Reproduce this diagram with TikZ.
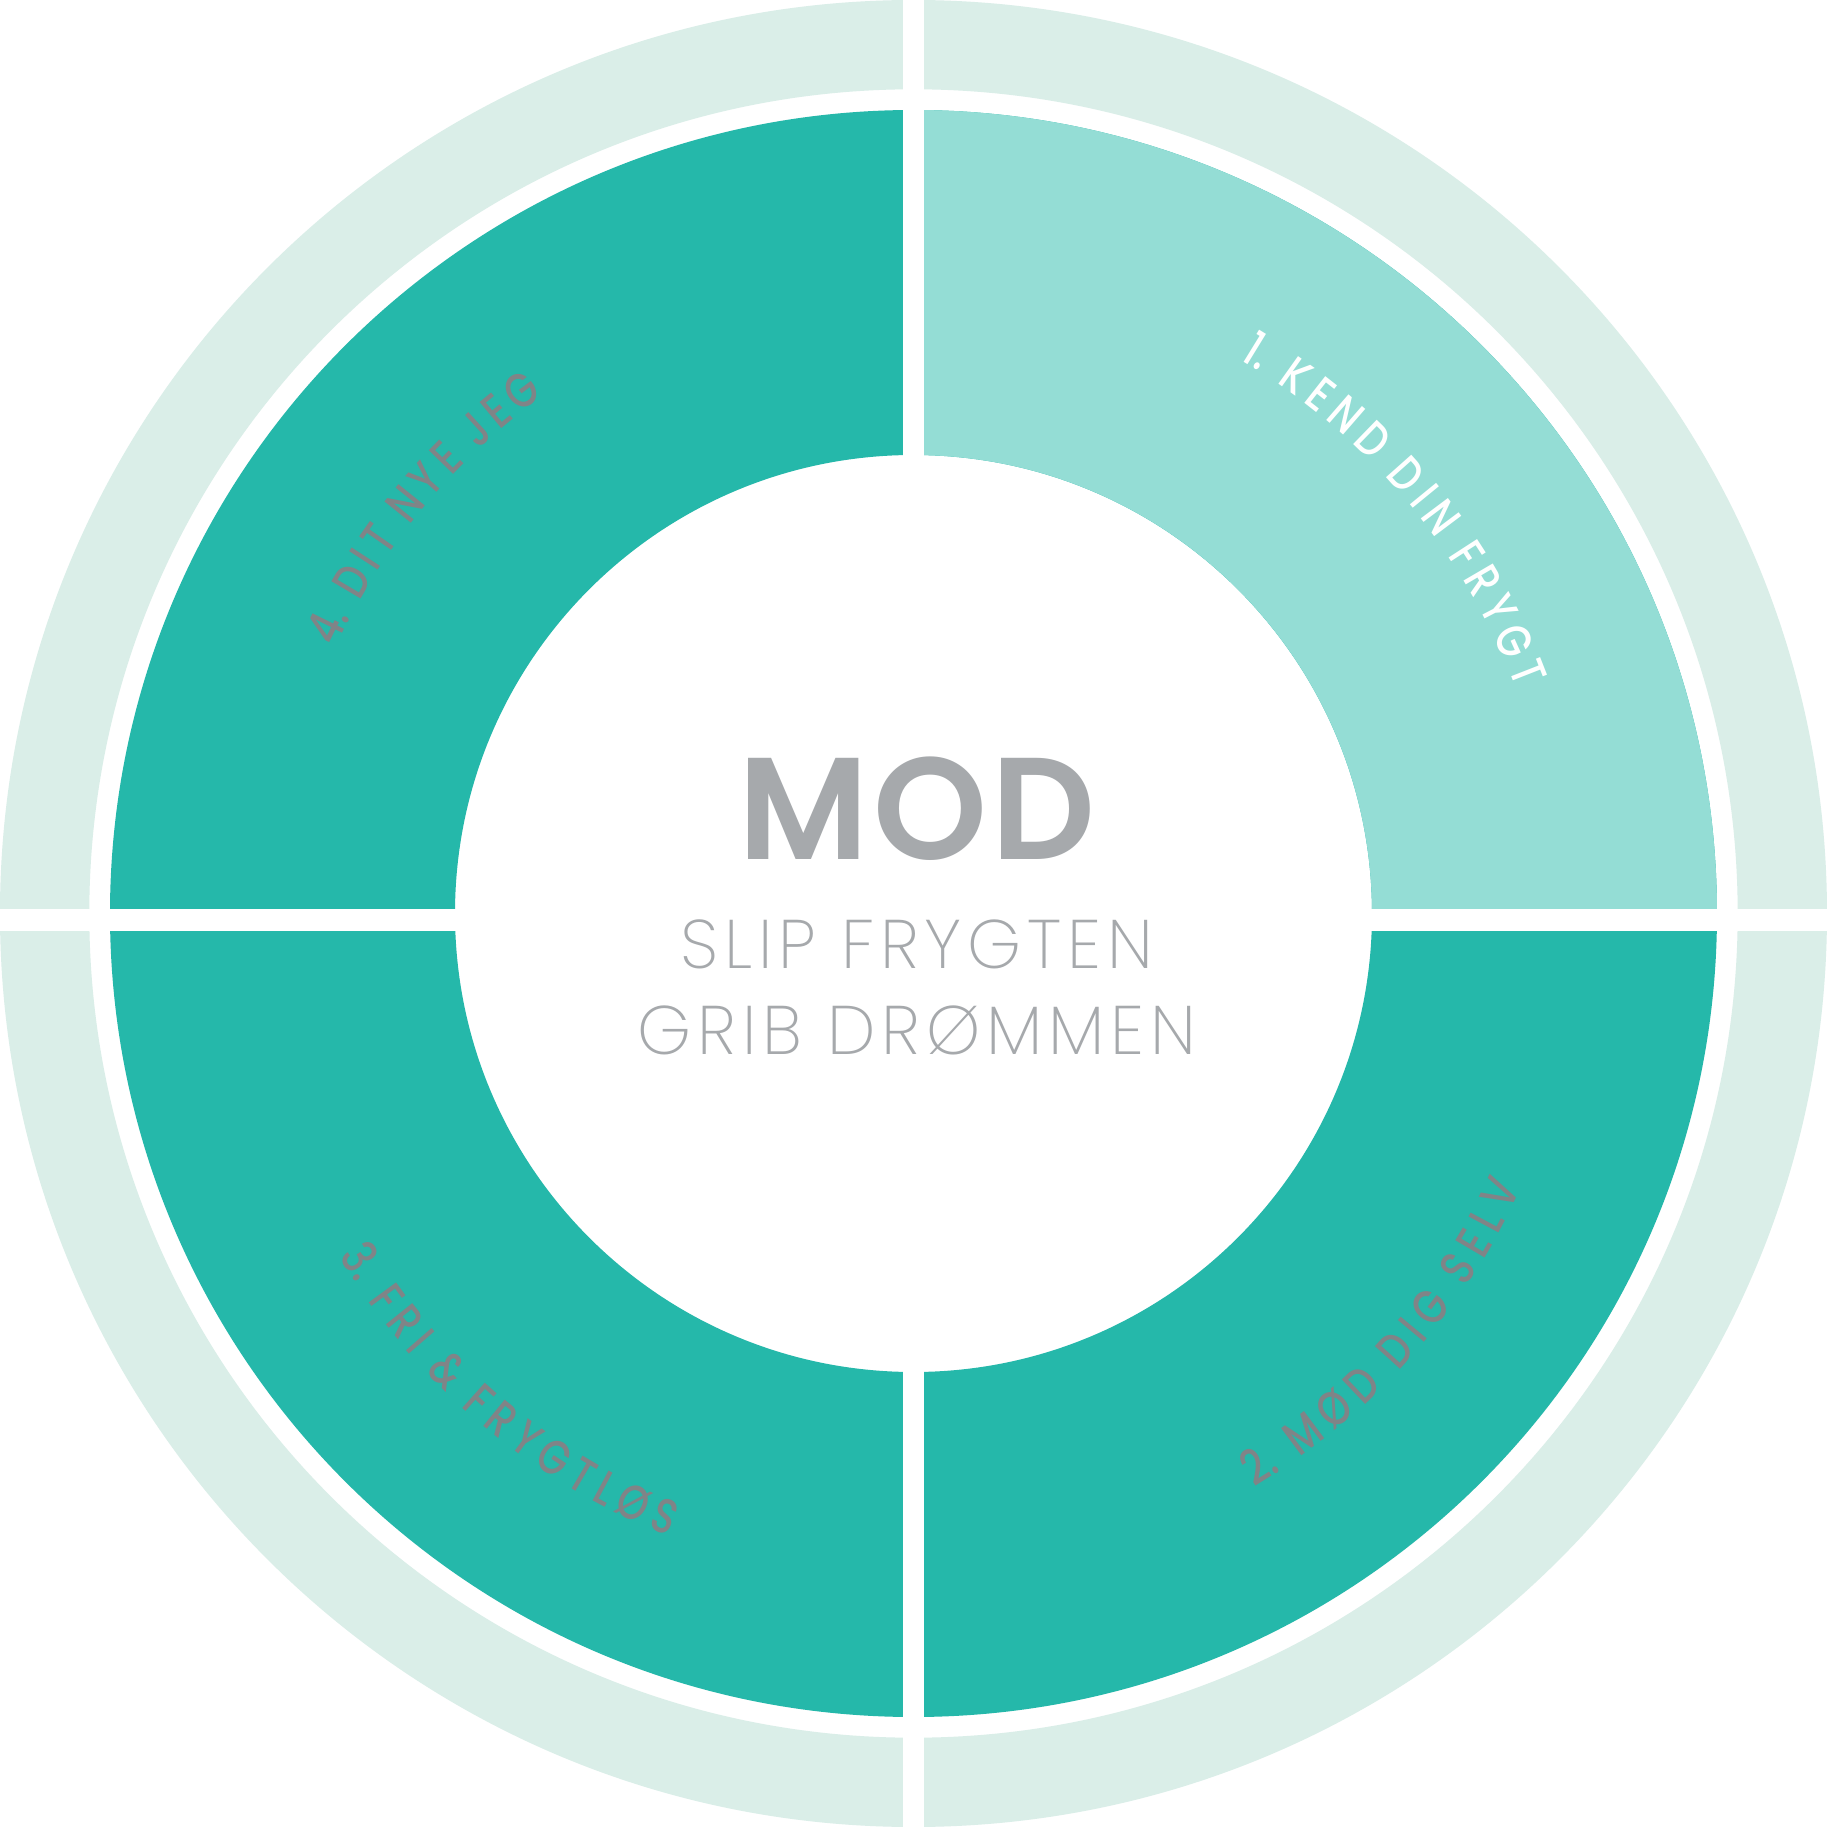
\documentclass[tikz,border=0pt]{standalone}
\usepackage{fontspec}
\setmainfont{Poppins}
\newfontfamily\thinfont{Poppins ExtraLight}[LetterSpace=8.5]
\newfontfamily\modfont{Poppins SemiBold}[LetterSpace=3]
\newfontfamily\labelfont{Poppins Medium}

\definecolor{ringpale}{HTML}{DAEEE8}
\definecolor{ringteal}{HTML}{25B8AA}
\definecolor{ringmint}{HTML}{94DDD5}
\definecolor{labelgray}{HTML}{808487}
\definecolor{titlegray}{HTML}{A6A9AC}
\newcommand\lblfont{\labelfont\fontsize{19.5pt}{19.5pt}\selectfont}
\newcommand\lblwhite{\lblfont\color{white}}
\newcommand\lblgray{\lblfont\color{labelgray}}
\newcommand\ringsx{0.8}
\newcommand\wsp{\hspace*{0.12em}}

\newdimen\glyphw
\newcommand\storewidth[1]{%
  \settowidth{\glyphw}{\lblfont#1}%
  \expandafter\xdef\csname rw@\detokenize{#1}\endcsname{\the\glyphw}}
% #1 font, #2 radius, #3 start angle, #4 end angle, #5 name, #6 letters
\newcommand\ringtext[6]{%
  \gdef\ringsum{0}\gdef\ringn{0}%
  \foreach \ch in {#6}{%
    \glyphw=\csname rw@\detokenize\expandafter{\ch}\endcsname\relax
    \pgfmathsetmacro\ringtmp{\ringsum+\ringsx*\the\glyphw}\global\let\ringsum\ringtmp
    \pgfmathtruncatemacro\ringtmp{\ringn+1}\global\let\ringn\ringtmp
  }%
  \pgfmathsetmacro\ringrad{0.4*#2}%
  \pgfmathsetmacro\ringdir{#4>#3 ? 1 : -1}%
  \pgfmathsetmacro\ringtrack{(\ringrad*(abs(#4-#3)/180*pi)-\ringsum)/(\ringn-1)}%
  \gdef\ringacc{0}\gdef\ringi{0}%
  \foreach \ch in {#6}{%
    \glyphw=\csname rw@\detokenize\expandafter{\ch}\endcsname\relax
    \pgfmathsetmacro\ringang{#3+\ringdir*((\ringacc+0.5*\ringsx*\the\glyphw)/\ringrad)/pi*180}%
    \pgfmathtruncatemacro\ringtmp{\ringi+1}\global\let\ringi\ringtmp
    \node[glyph, rotate=\ringang+\ringdir*90, xscale=\ringsx, font=#1] (#5\ringi) at (\ringang:#2) {\ch};
    \pgfmathsetmacro\ringtmp{\ringacc+\ringsx*\the\glyphw+\ringtrack}\global\let\ringacc\ringtmp
  }%
}

\begin{document}
\storewidth{1.}\storewidth{2.}\storewidth{3.}\storewidth{4.}\storewidth{\wsp}\storewidth{\&}%
\storewidth{K}\storewidth{E}\storewidth{N}\storewidth{D}\storewidth{I}\storewidth{F}%
\storewidth{R}\storewidth{Y}\storewidth{G}\storewidth{T}\storewidth{M}\storewidth{Ø}%
\storewidth{S}\storewidth{L}\storewidth{V}\storewidth{J}%
\begin{tikzpicture}[
  x=0.4pt, y=0.4pt,
  gap/.style={fill=white},
  glyph/.style={inner sep=0pt, anchor=base},
  title/.style={text=titlegray, inner sep=0pt, anchor=base}
]
\useasboundingbox (-913.5,-913.5) rectangle (913.5,913.5);
\fill[white] (-913.5,-913.5) rectangle (913.5,913.5);

\fill[ringpale, even odd rule] (0,0) circle[radius=913.5] (0,0) circle[radius=824.2];
\fill[ringteal, even odd rule] (0,0) circle[radius=803.5] (0,0) circle[radius=458.5];
\begin{scope}
  \clip (0,0) rectangle (913.5,913.5);
  \fill[ringmint, even odd rule] (0,0) circle[radius=803.5] (0,0) circle[radius=458.5];
\end{scope}
\fill[gap] (-10.7,-913.5) rectangle (10.7,913.5);
\fill[gap] (-913.5,-17.2) rectangle (913.5,4.2);

\ringtext{\lblwhite}{643}{59.5}{20.4}{kend}{1.,\wsp,K,E,N,D,\wsp,D,I,N,\wsp,F,R,Y,G,T}
\ringtext{\lblgray}{667}{-59.3}{-24.3}{mod}{2.,\wsp,M,Ø,D,\wsp,D,I,G,\wsp,S,E,L,V}
\ringtext{\lblgray}{669}{210.8}{248.6}{fri}{3.,\wsp,F,R,I,\wsp,\&,\wsp,F,R,Y,G,T,L,Ø,S}
\ringtext{\lblgray}{636}{155.3}{125.5}{dit}{4.,\wsp,D,I,T,\wsp,N,Y,E,\wsp,J,E,G}

\node[title, font=\modfont\fontsize{58pt}{58pt}\selectfont] (title) at (3.5,53.5) {MOD};
\node[title, font=\thinfont\fontsize{27.5pt}{27.5pt}\selectfont] (slip) at (3.5,-54.7) {SLIP FRYGTEN};
\node[title, font=\thinfont\fontsize{27.5pt}{27.5pt}\selectfont] (grib) at (3.5,-141) {GRIB DRØMMEN};
\end{tikzpicture}
\end{document}
